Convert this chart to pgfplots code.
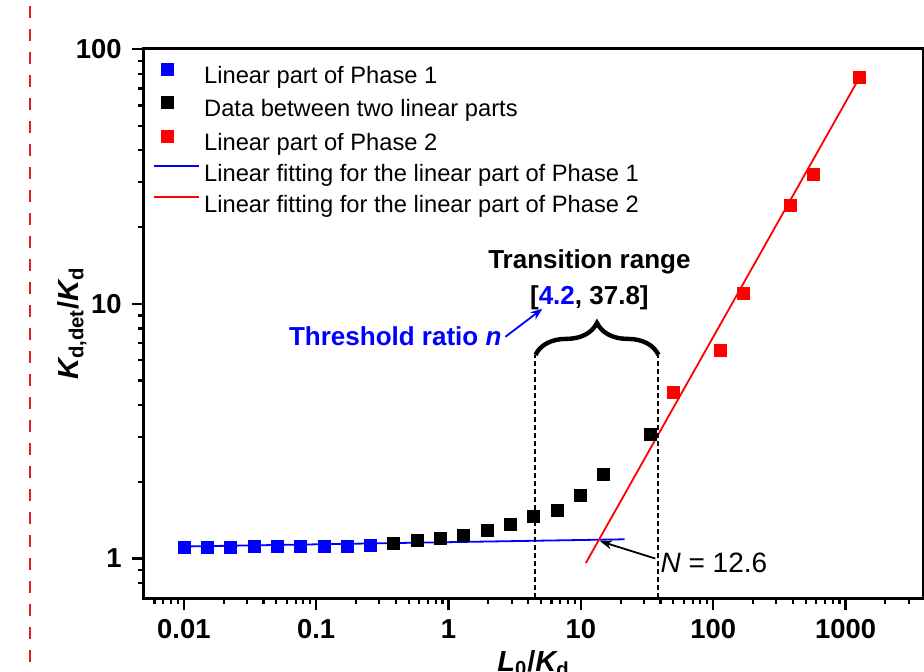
\documentclass[border=0pt]{standalone}
\usepackage{fontspec}
\setmainfont{Liberation Sans}
\usepackage{pgfplots}
\pgfplotsset{compat=1.18}
\usetikzlibrary{arrows.meta,decorations.pathreplacing}
\definecolor{sepred}{RGB}{225,30,35}
\pgfplotsset{
  markleg/.style={legend image code/.code={\draw[##1] plot coordinates {(6.5pt,3.8pt)};}},
  lineleg/.style={legend image code/.code={\draw[##1] (0pt,4.5pt) -- (22.5pt,4.5pt);}},
}

\begin{document}
\begin{tikzpicture}
\useasboundingbox (-72pt,-36.5pt) rectangle (390pt,299pt);
\clip (-72pt,-36.5pt) rectangle (390pt,299pt);
\draw[line width=1.4pt, sepred, dash pattern=on 6pt off 5.5pt] (-57pt,296pt) -- (-57pt,-40pt);
\begin{axis}[
  scale only axis, width=389.5pt, height=274.5pt,
  xmode=log, ymode=log,
  xmin=0.005, xmax=3850, ymin=0.7, ymax=100,
  xtick={0.01,0.1,1,10,100,1000}, xticklabels={0.01,0.1,1,10,100,1000},
  minor xtick={0.006,0.007,0.008,0.009,0.02,0.03,0.04,0.05,0.06,0.07,0.08,0.09,
    0.2,0.3,0.4,0.5,0.6,0.7,0.8,0.9,2,3,4,5,6,7,8,9,20,30,40,50,60,70,80,90,
    200,300,400,500,600,700,800,900,2000,3000},
  ytick={1,10,100}, yticklabels={1,10,100},
  minor ytick={0.8,0.9,2,3,4,5,6,7,8,9,20,30,40,50,60,70,80,90},
  tick pos=left, tick align=outside,
  major tick length=6pt, minor tick length=3pt,
  tick style={black, line width=1.1pt},
  axis line style={line width=1.5pt},
  ticklabel style={font=\fontsize{13.7}{16}\selectfont\bfseries, inner sep=0pt},
  xticklabel style={anchor=north, yshift=-4.5pt},
  yticklabel style={anchor=east, xshift=-5pt},
  every axis y label/.style={at={(axis description cs:-0.0924,0.5)}, rotate=90, anchor=center,
    font=\fontsize{14.5}{17}\selectfont},
  every axis x label/.style={at={(axis description cs:0.5,0)}, anchor=north, yshift=-26pt, inner sep=0pt,
    font=\fontsize{14.5}{17}\selectfont},
  ylabel={\bfseries\itshape K\textsubscript{\upshape d,det}\upshape/\itshape K\textsubscript{\upshape d}},
  xlabel={\bfseries\itshape L\textsubscript{\upshape 0}\upshape/\itshape K\textsubscript{\upshape d}},
  legend cell align=left,
  legend style={draw=none, fill=none, at={(axis description cs:0.0115,0.9745)}, anchor=north west,
    inner sep=0pt, outer sep=0pt, row sep=4.2pt,
    font=\fontsize{11.85}{14}\selectfont,
    nodes={inner sep=0pt, text height=9pt, text depth=2.5pt},
    /tikz/every odd column/.style={column sep=2.2pt}},
  mark size=3pt,
]
\addplot[only marks, mark=square*, blue, mark options={line width=0.2pt}, markleg]
  coordinates {
  (0.01,1.11) (0.015,1.11) (0.0225,1.11) (0.0338,1.115) (0.0506,1.115)
  (0.0759,1.115) (0.114,1.12) (0.171,1.12) (0.256,1.125)};
\addlegendentry{Linear part of Phase 1}
\addplot[only marks, mark=square*, black, mark options={line width=0.2pt}, markleg]
  coordinates {
  (0.384,1.15) (0.577,1.18) (0.865,1.205) (1.30,1.23) (1.95,1.29) (2.92,1.37)
  (4.38,1.46) (6.57,1.55) (9.85,1.77) (14.8,2.14) (33.3,3.08)};
\addlegendentry{Data between two linear parts}
\addplot[only marks, mark=square*, red, mark options={line width=0.2pt}, markleg]
  coordinates {
  (49.9,4.49) (112.2,6.6) (168.3,11.0) (378.8,24.3) (568.1,32.3) (1278,77.2)};
\addlegendentry{Linear part of Phase 2}
\addplot[blue, line width=0.9pt, no marks, lineleg]
  coordinates {(0.01,1.115) (21.4,1.19)};
\addlegendentry{Linear fitting for the linear part of Phase 1}
\addplot[red, line width=0.9pt, no marks, lineleg]
  coordinates {(10.9,0.96) (1278,77.5)};
\addlegendentry{Linear fitting for the linear part of Phase 2}

\draw[black, line width=1pt, dash pattern=on 2.5pt off 1.5pt]
  (axis cs:4.54,0.7) -- (axis cs:4.54,6.3)
  (axis cs:38.6,0.7) -- (axis cs:38.6,6.3);
\draw[black, line width=2.2pt, decorate, decoration={brace, amplitude=16pt}]
  (axis cs:4.54,6.3) -- (axis cs:38.6,6.3);
\node[anchor=base, font=\fontsize{13}{15}\selectfont\bfseries] at (axis cs:11.6,13.8) {Transition range};
\node[anchor=base, font=\fontsize{13}{15}\selectfont\bfseries] at (axis cs:11.6,9.91) {[{\color{blue}4.2}, 37.8]};
\node[anchor=base west, font=\fontsize{13}{15}\selectfont\bfseries, text=blue, inner sep=0pt] at (axis cs:0.062,6.84) {Threshold ratio \itshape n};
\draw[blue, line width=0.9pt, -{Stealth[length=6pt,width=4.5pt]}] (axis cs:2.69,7.42) -- (axis cs:5.12,9.56);
\node[anchor=base west, font=\fontsize{14}{16}\selectfont, inner sep=0pt] at (axis cs:39.8,0.879) {\itshape N\upshape{} = 12.6};
\draw[black, line width=0.9pt, -{Stealth[length=6pt,width=4.5pt]}] (axis cs:36.5,1.0) -- (axis cs:14.0,1.169);
\end{axis}
\end{tikzpicture}
\end{document}
